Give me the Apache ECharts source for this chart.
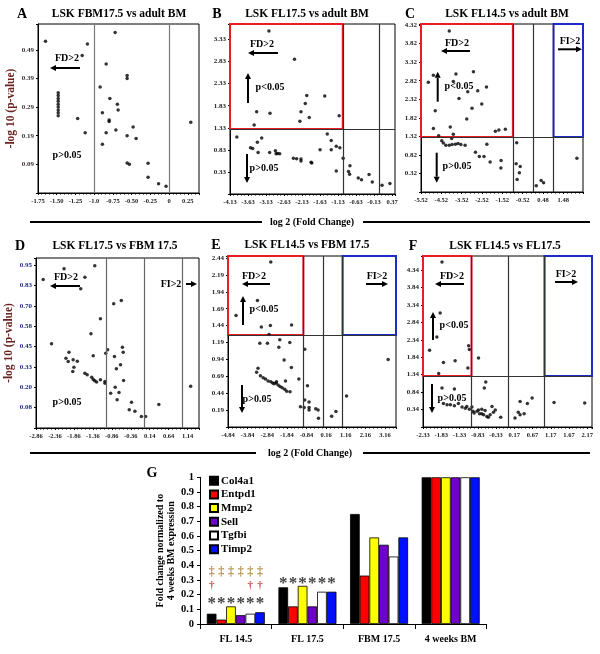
<!DOCTYPE html>
<html>
<head>
<meta charset="utf-8">
<script src="https://cdn.jsdelivr.net/npm/echarts@6/dist/echarts.min.js"></script>
<style>
  html, body { margin: 0; padding: 0; background: #fff; }
  #chart { width: 600px; height: 654px; }
</style>
</head>
<body>
<div id="chart"></div>
<script>
const SERIF = '"Liberation Serif", "Times New Roman", serif';

// volcano points: [log2 fold change, -log10 p-value]
const ptsA = [
  [-1.65, 0.52], [-1.09, 0.51], [-1.16, 0.47], [-0.72, 0.55], [-0.84, 0.44], [-0.56, 0.40],
  [-0.56, 0.39], [-0.92, 0.36], [-0.79, 0.32], [-0.69, 0.30], [-0.68, 0.28], [-0.89, 0.27],
  [-0.80, 0.245], [-0.80, 0.24], [-0.71, 0.21], [-0.84, 0.20], [-0.48, 0.22], [-0.56, 0.19],
  [-0.44, 0.18], [-0.89, 0.16], [-1.22, 0.25], [-1.12, 0.20],
  [-1.48, 0.34], [-1.48, 0.33], [-1.48, 0.32], [-1.48, 0.31], [-1.48, 0.30], [-1.48, 0.29],
  [-1.48, 0.28], [-1.48, 0.27], [-1.48, 0.26],
  [-0.56, 0.095], [-0.53, 0.09], [-0.28, 0.094], [-0.28, 0.045], [-0.14, 0.022], [-0.04, 0.014],
  [0.29, 0.237]
];
const ptsB = [
  [-3.05, 3.52], [-2.34, 2.88], [-2.00, 2.06], [-1.50, 2.05], [-2.04, 1.88], [-2.16, 1.69],
  [-3.39, 1.69], [-3.02, 1.66], [-1.93, 1.56], [-1.10, 1.60], [-2.19, 1.48], [-3.46, 1.39],
  [-3.94, 1.12], [-3.25, 1.10], [-3.37, 1.00], [-3.56, 0.88], [-3.50, 0.86], [-3.35, 0.77],
  [-3.03, 0.77], [-2.87, 0.81], [-2.81, 0.75], [-2.75, 0.74], [-2.85, 0.74], [-2.37, 0.64],
  [-2.28, 0.63], [-2.16, 0.62], [-2.16, 0.58], [-1.88, 0.55], [-1.86, 0.53], [-1.63, 0.83],
  [-1.43, 1.19], [-1.32, 1.04], [-1.32, 0.83], [-1.18, 0.91], [-1.08, 0.88], [-0.99, 0.64],
  [-1.18, 0.35], [-0.84, 0.34], [-0.81, 0.28], [-0.80, 0.47], [-0.57, 0.19], [-0.48, 0.15],
  [-0.27, 0.27], [-0.18, 0.10], [0.09, 0.03], [0.31, 0.07]
];
const ptsC = [
  [-4.13, 4.16], [-5.16, 2.78], [-4.91, 2.97], [-3.80, 3.00], [-2.94, 3.06], [-3.93, 2.80],
  [-3.22, 2.52], [-2.73, 2.55], [-2.30, 2.65], [-3.65, 2.34], [-2.53, 2.19], [-3.01, 2.08],
  [-4.82, 2.01], [-3.27, 1.79], [-4.08, 1.57], [-4.91, 1.53], [-1.86, 1.46], [-1.69, 1.49],
  [-1.37, 1.51], [-3.93, 1.38], [-4.65, 1.34],
  [-4.50, 1.20], [-4.42, 1.14], [-4.30, 1.08], [-4.13, 1.08], [-3.99, 1.10], [-3.83, 1.11],
  [-3.70, 1.13], [-3.56, 1.10], [-3.35, 1.08], [-4.01, 1.26],
  [-2.28, 1.11], [-2.84, 0.89], [-2.65, 0.78], [-2.42, 0.78], [-2.12, 0.63], [-1.58, 0.67],
  [-1.59, 0.47], [-0.81, 1.15], [-0.84, 0.58], [-0.64, 0.51], [-0.68, 0.34], [-0.79, 0.16],
  [0.15, -0.01], [0.39, 0.13], [0.51, 0.07], [2.15, 0.73]
];
const ptsD = [
  [-2.67, 0.868], [-2.12, 0.934], [-1.31, 0.952], [-1.57, 0.882], [-1.68, 0.811], [-0.61, 0.739],
  [-0.81, 0.719], [-1.16, 0.626], [-1.41, 0.534], [-2.45, 0.473], [-1.99, 0.421], [-0.97, 0.436],
  [-1.02, 0.415], [-0.58, 0.452], [-0.56, 0.421], [-1.35, 0.399], [-0.79, 0.395], [-2.07, 0.384],
  [-2.01, 0.364], [-1.88, 0.374], [-1.77, 0.366], [-1.86, 0.329], [-1.89, 0.302], [-0.63, 0.344],
  [-0.74, 0.319], [-1.57, 0.292], [-1.51, 0.282], [-1.39, 0.267], [-1.35, 0.253], [-1.31, 0.245],
  [-1.26, 0.237], [-1.16, 0.251], [-1.04, 0.241], [-1.04, 0.230], [-0.55, 0.247], [-0.77, 0.206],
  [-0.89, 0.169], [-0.67, 0.173], [-0.72, 0.128], [1.22, 0.212], [-0.34, 0.114], [-0.40, 0.067],
  [-0.25, 0.058], [-0.08, 0.026], [0.03, 0.026], [0.38, 0.10]
];
const ptsE = [
  [-2.66, 2.38], [-3.34, 1.81], [-4.43, 1.59], [-3.14, 1.42], [-2.68, 1.44], [-1.60, 1.45],
  [-2.75, 1.31], [-3.22, 1.18], [-2.83, 1.18], [-2.20, 1.23], [-1.69, 1.19], [-2.25, 1.12],
  [-0.93, 1.09], [-1.98, 0.93], [-1.61, 0.82], [-3.31, 0.81], [-3.38, 0.75], [-3.19, 0.70],
  [-1.23, 0.65], [3.32, 0.94],
  [-3.05, 0.67], [-2.93, 0.65], [-2.80, 0.62], [-2.66, 0.61], [-2.56, 0.59], [-2.49, 0.58],
  [-2.39, 0.59], [-2.29, 0.56], [-2.19, 0.54], [-2.08, 0.52], [-1.95, 0.50], [-1.85, 0.47],
  [-1.68, 0.46], [-1.91, 0.62], [-2.37, 0.61],
  [-0.79, 0.55], [1.20, 0.40], [-0.93, 0.34], [-0.71, 0.31], [-1.15, 0.24], [-0.96, 0.23],
  [-0.71, 0.23], [-0.71, 0.19], [-0.37, 0.21], [-0.25, 0.19], [-0.23, 0.07], [0.44, 0.10],
  [0.66, 0.17]
];
const ptsF = [
  [-1.81, 4.57], [-1.86, 3.11], [-1.95, 2.42], [-2.15, 2.04], [-1.08, 2.17], [-1.06, 2.06],
  [-1.77, 1.69], [-1.45, 1.74], [-1.10, 1.53], [-1.90, 1.37], [-0.81, 1.82], [-0.61, 1.13],
  [-1.81, 0.96], [-1.47, 0.93], [-0.65, 0.96], [0.66, 0.67],
  [-1.77, 0.51], [-1.67, 0.48], [-1.58, 0.48], [-1.47, 0.45], [-1.36, 0.51], [-1.26, 0.41],
  [-1.17, 0.38], [-1.13, 0.43], [-1.06, 0.35], [-0.99, 0.41], [-0.96, 0.29], [-0.93, 0.24],
  [-0.85, 0.29], [-0.81, 0.33], [-0.78, 0.22], [-0.72, 0.35], [-0.67, 0.19], [-0.63, 0.31],
  [-0.58, 0.14], [-0.54, 0.12], [-0.49, 0.19], [-0.44, 0.43], [-0.40, 0.26], [-0.35, 0.33],
  [-0.20, 0.12], [-0.72, 0.22], [0.33, 0.57], [0.53, 0.51], [0.19, 0.10], [0.28, 0.26],
  [0.33, 0.19], [0.44, 0.22], [1.26, 0.54], [2.10, 0.53]
];

// tick labels as printed
const A_XTICKS = ['-1.75', '-1.50', '-1.25', '-1.0', '-0.75', '-0.50', '-0.25', '0', '0.25'];
const A_YTICKS = ['0.09', '0.19', '0.29', '0.39', '0.49'];
const B_XTICKS = ['-4.13', '-3.63', '-3.13', '-2.63', '-2.13', '-1.63', '-1.13', '-0.63', '-0.13', '0.37'];
const B_YTICKS = ['0.33', '0.83', '1.33', '1.83', '2.33', '2.83', '3.33'];
const C_XTICKS = ['-5.52', '-4.52', '-3.52', '-2.52', '-1.52', '-0.52', '0.48', '1.48'];
const C_YTICKS = ['0.32', '0.82', '1.32', '1.82', '2.32', '2.82', '3.32', '3.82', '4.32'];
const D_XTICKS = ['-2.86', '-2.36', '-1.86', '-1.36', '-0.86', '-0.36', '0.14', '0.64', '1.14'];
const D_YTICKS = ['0.08', '0.20', '0.33', '0.45', '0.58', '0.70', '0.83', '0.95'];
const E_XTICKS = ['-4.84', '-3.84', '-2.84', '-1.84', '-0.84', '0.16', '1.16', '2.16', '3.16'];
const E_YTICKS = ['0.19', '0.44', '0.69', '0.94', '1.19', '1.44', '1.69', '1.94', '2.19', '2.44'];
const F_XTICKS = ['-2.33', '-1.83', '-1.33', '-0.83', '-0.33', '0.17', '0.67', '1.17', '1.67', '2.17'];
const F_YTICKS = ['0.34', '0.84', '1.34', '1.84', '2.34', '2.84', '3.34', '3.84', '4.34'];

// panel G
const GROUPS = ['FL 14.5', 'FL 17.5', 'FBM 17.5', '4 weeks BM'];
const GENES = ['Col4a1', 'Entpd1', 'Mmp2', 'Sell', 'Tgfbi', 'Timp2'];
const col4a1 = [0.07, 0.25, 0.75, 1];
const entpd1 = [0.03, 0.12, 0.33, 1];
const mmp2 = [0.12, 0.26, 0.59, 1];
const sell = [0.06, 0.12, 0.54, 1];
const tgfbi = [0.07, 0.22, 0.46, 1];
const timp2 = [0.08, 0.22, 0.59, 1];
const G_YTICKS = ['0', '0.1', '0.2', '0.3', '0.4', '0.5', '0.6', '0.7', '0.8', '0.9', '1'];
// significance marks per gene (1 = shown)
const FL145_STAR = [1, 1, 1, 1, 1, 1];
const FL145_DAGGER = [1, 0, 0, 0, 1, 1];
const FL145_DDAGGER = [1, 1, 1, 1, 1, 1];
const FL175_STAR = [1, 1, 1, 1, 1, 1];

const GENE_VALUES = [col4a1, entpd1, mmp2, sell, tgfbi, timp2];
const GENE_COLORS = ['#000000', '#ff0000', '#ffff00', '#7000cc', '#ffffff', '#0010ff'];

function tickFmt(labels) {
  return function (v) {
    for (const s of labels) if (Math.abs(parseFloat(s) - v) < 0.02) return s;
    return '';
  };
}

const panels = [
  { letter: 'A', title: 'LSK FBM17.5 vs adult BM', rect: [38, 24, 161, 169], x: [-1.75, 0.40, 0.25], y: [-0.01, 0.58, 0.1],
    xt: A_XTICKS, yt: A_YTICKS, pts: ptsA, vlines: [-1, 0], hline: false, red: false, blue: false, lineColor: '#7a7a7a', yName: true, yCol: '#3a3030' },
  { letter: 'B', title: 'LSK FL17.5 vs adult BM', rect: [230, 24, 165, 170], x: [-4.13, 0.45, 0.5], y: [-0.17, 3.68, 0.5],
    xt: B_XTICKS, yt: B_YTICKS, pts: ptsB, vlines: [-1, 0], hline: true, red: true, blue: false, lineColor: '#333' },
  { letter: 'C', title: 'LSK FL14.5 vs adult BM', rect: [421, 24, 162, 168], x: [-5.52, 2.45, 1], y: [-0.18, 4.35, 0.5],
    xt: C_XTICKS, yt: C_YTICKS, pts: ptsC, vlines: [-1, 0, 1], hline: true, red: true, blue: true, lineColor: '#333' },
  { letter: 'D', title: 'LSK FL17.5 vs FBM 17.5', rect: [36, 258, 163, 170], x: [-2.86, 1.44, 0.5], y: [-0.045, 1.0, 0.125],
    xt: D_XTICKS, yt: D_YTICKS, pts: ptsD, vlines: [-1, 0, 1], hline: false, red: false, blue: false, lineColor: '#666', yName: true, yCol: '#1c2a80' },
  { letter: 'E', title: 'LSK FL14.5 vs FBM 17.5', rect: [228, 256, 168, 171], x: [-4.84, 3.72, 1], y: [-0.06, 2.47, 0.25],
    xt: E_XTICKS, yt: E_YTICKS, pts: ptsE, vlines: [-1, 0, 1], hline: true, red: true, blue: true, lineColor: '#333' },
  { letter: 'F', title: 'LSK FL14.5 vs FL17.5', rect: [423, 256, 169, 171], x: [-2.33, 2.30, 0.5], y: [-0.16, 4.74, 0.5],
    xt: F_XTICKS, yt: F_YTICKS, pts: ptsF, vlines: [-1, 0, 1], hline: true, red: true, blue: true, lineColor: '#333' }
];
const P_THRESH = 1.3;

const grids = [], xAxes = [], yAxes = [], series = [];

panels.forEach((p, i) => {
  grids.push({ left: p.rect[0], top: p.rect[1], width: p.rect[2], height: p.rect[3], show: true,
    borderColor: '#000', borderWidth: 1, backgroundColor: '#fff', outerBoundsMode: 'none' });
  xAxes.push({
    gridIndex: i, type: 'value', min: p.x[0], max: p.x[1], interval: p.x[2],
    axisLine: { onZero: false, lineStyle: { color: '#000', width: 1 } },
    axisTick: { show: true, length: 2, lineStyle: { color: '#000' } },
    minorTick: { show: true, splitNumber: 5, length: 1.5, lineStyle: { color: '#000' } },
    splitLine: { show: false },
    axisLabel: { fontSize: 6.5, fontWeight: 'bold', fontFamily: SERIF, color: '#222', margin: 5, formatter: tickFmt(p.xt) }
  });
  yAxes.push({
    gridIndex: i, type: 'value', min: p.y[0], max: p.y[1], interval: p.y[2],
    axisLine: { onZero: false, lineStyle: { color: '#000', width: 1 } },
    axisTick: { show: true, length: 2, lineStyle: { color: '#000' } },
    splitLine: { show: false },
    axisLabel: { fontSize: 7, fontWeight: 'bold', fontFamily: SERIF, color: p.yCol || '#222', margin: 4, formatter: tickFmt(p.yt) },
    name: p.yName ? '-log 10 (p-value)' : '', nameLocation: 'middle', nameGap: 21, nameRotate: 90,
    nameTextStyle: { fontSize: 11.5, fontWeight: 'bold', fontFamily: SERIF, color: '#6a2420' }
  });

  const lines = p.vlines.map(v => ({ xAxis: v }));
  if (p.hline) lines.push({ yAxis: P_THRESH });
  const areas = [];
  if (p.red) areas.push([{ xAxis: p.x[0], yAxis: P_THRESH, itemStyle: { color: 'rgba(0,0,0,0)', borderColor: '#ea1c24', borderWidth: 2 } },
                         { xAxis: -1, yAxis: p.y[1] }]);
  if (p.blue) areas.push([{ xAxis: 1, yAxis: P_THRESH, itemStyle: { color: 'rgba(0,0,0,0)', borderColor: '#1c2cc8', borderWidth: 2 } },
                          { xAxis: p.x[1], yAxis: p.y[1] }]);
  series.push({
    type: 'scatter', xAxisIndex: i, yAxisIndex: i, data: p.pts, symbolSize: 3.5, silent: true,
    itemStyle: { color: '#000' },
    markLine: { silent: true, symbol: 'none', label: { show: false },
      lineStyle: { color: p.lineColor, width: 1.2, type: 'solid' }, data: lines },
    markArea: { silent: true, data: areas }
  });
});

// panel G
const gi = panels.length;
grids.push({ left: 200, top: 477.3, width: 286.5, height: 146.7, show: false, outerBoundsMode: 'none' });
xAxes.push({
  gridIndex: gi, type: 'category', data: GROUPS,
  axisLine: { lineStyle: { color: '#000', width: 1 } },
  axisTick: { show: true, length: 5, lineStyle: { color: '#000' } },
  axisLabel: { fontSize: 10, fontWeight: 'bold', fontFamily: SERIF, color: '#000', margin: 10 }
});
yAxes.push({
  gridIndex: gi, type: 'value', min: 0, max: 1, interval: 0.1,
  axisLine: { show: true, lineStyle: { color: '#000', width: 1 } },
  axisTick: { show: true, length: 3, lineStyle: { color: '#000' } },
  splitLine: { show: false },
  axisLabel: { fontSize: 10.5, fontWeight: 'bold', fontFamily: SERIF, color: '#000', margin: 6, formatter: tickFmt(G_YTICKS) },
  name: 'Fold change normalized to\n4 weeks BM expression', nameLocation: 'middle', nameGap: 23, nameRotate: 90,
  nameTextStyle: { fontSize: 10, fontWeight: 'bold', fontFamily: SERIF, color: '#000', lineHeight: 11 }
});

const STAR_Y145 = 0.164, DAGGER_Y = 0.266, DDAGGER_Y = 0.357, STAR_Y175 = 0.30;
function mark(cat, val, text, color, size, dy) {
  return { coord: [cat, val], label: { formatter: text, color: color, fontSize: size, offset: [0, dy] } };
}
GENES.forEach((g, k) => {
  const marks = [];
  if (FL145_STAR[k]) marks.push(mark(0, STAR_Y145, '*', '#444', 17, 4));
  if (FL145_DAGGER[k]) marks.push(mark(0, DAGGER_Y, '†', '#c0504d', 11, 0));
  if (FL145_DDAGGER[k]) marks.push(mark(0, DDAGGER_Y, '‡', '#b8934f', 12, 0));
  if (FL175_STAR[k]) marks.push(mark(1, STAR_Y175, '*', '#444', 17, 4));
  series.push({
    type: 'bar', name: g, xAxisIndex: gi, yAxisIndex: gi, data: GENE_VALUES[k],
    barGap: '0%', barCategoryGap: '19%', silent: true,
    itemStyle: { color: GENE_COLORS[k], borderColor: '#000', borderWidth: 0.8 },
    markPoint: {
      silent: true, symbol: 'rect', symbolSize: 1, itemStyle: { color: 'rgba(0,0,0,0)' },
      label: { show: true, position: 'inside', fontWeight: 'bold', fontFamily: SERIF },
      data: marks
    }
  });
});

// annotations
function txt(x, y, s, size, color) {
  return { type: 'text', x: x, y: y, z: 100,
    style: { text: s, font: 'bold ' + size + 'px ' + SERIF, fill: color || '#000', align: 'center', verticalAlign: 'middle' } };
}
function arrow(x1, y1, x2, y2) {
  const dx = x2 - x1, dy = y2 - y1, len = Math.hypot(dx, dy);
  const ux = dx / len, uy = dy / len, hl = 6, hw = 3;
  const bx = x2 - ux * hl, by = y2 - uy * hl;
  return [
    { type: 'line', z: 100, shape: { x1: x1, y1: y1, x2: bx, y2: by }, style: { stroke: '#000', lineWidth: 2 } },
    { type: 'polygon', z: 100, shape: { points: [[x2, y2], [bx - uy * hw, by + ux * hw], [bx + uy * hw, by - ux * hw]] }, style: { fill: '#000' } }
  ];
}
function hline(x1, x2, y) {
  return { type: 'line', z: 100, shape: { x1: x1, y1: y, x2: x2, y2: y }, style: { stroke: '#000', lineWidth: 2 } };
}

const titlePos = [[22, 119, 14], [217, 307, 14], [410, 507, 14], [20, 115, 246], [216, 307, 245], [413, 505, 246]];
let graphics = [];
panels.forEach((p, i) => {
  const t = titlePos[i];
  graphics.push(txt(t[0], t[2], p.letter, 14));
  graphics.push(txt(t[1], t[2], p.title, 11.5));
});
graphics.push(
  // A
  txt(67, 58, 'FD>2', 10), ...arrow(80, 68, 50, 68), txt(67, 155, 'p>0.05', 10),
  // B
  txt(262, 44, 'FD>2', 10), ...arrow(278, 53, 248, 53), ...arrow(248, 103, 248, 73), txt(270, 87, 'p<0.05', 10),
  ...arrow(247, 154, 247, 183), txt(264, 168, 'p>0.05', 10),
  // C
  txt(457, 43, 'FD>2', 10), ...arrow(470, 51, 441, 51), txt(570, 41.5, 'FI>2', 10), ...arrow(558, 49.3, 582, 49.3),
  ...arrow(437.7, 101.7, 437.7, 71.7), txt(459, 86, 'p<0.05', 10), ...arrow(436.7, 152.7, 436.7, 182.7), txt(457, 166, 'p>0.05', 10),
  // D
  txt(66, 277, 'FD>2', 10), ...arrow(80, 286, 50, 286), txt(171, 284, 'FI>2', 10), ...arrow(186, 284, 197, 284), txt(67, 402, 'p>0.05', 10),
  // E
  txt(254, 276, 'FD>2', 10), ...arrow(270, 284, 242, 284), txt(377, 276, 'FI>2', 10), ...arrow(366, 284, 388, 284),
  ...arrow(243, 325, 243, 296), txt(264, 309, 'p<0.05', 10), ...arrow(242, 385, 242, 413), txt(257, 399, 'p>0.05', 10),
  // F
  txt(452, 276, 'FD>2', 10), ...arrow(464, 284, 435, 284), txt(566, 274, 'FI>2', 10), ...arrow(555, 282, 578, 282),
  ...arrow(433, 340, 433, 312), txt(454, 325, 'p<0.05', 10), ...arrow(432, 384, 432, 413), txt(452, 398, 'p>0.05', 10),
  // shared x-axis titles
  hline(30, 262, 222), txt(312, 222, 'log 2 (Fold Change)', 10), hline(363, 590, 222),
  hline(30, 256, 453), txt(310, 453, 'log 2 (Fold Change)', 10), hline(363, 590, 453),
  // G
  txt(152, 473, 'G', 14)
);

const chart = echarts.init(document.getElementById('chart'), null, { renderer: 'canvas' });
chart.setOption({
  animation: false,
  backgroundColor: '#fff',
  grid: grids,
  xAxis: xAxes,
  yAxis: yAxes,
  legend: {
    data: GENES, orient: 'vertical', left: 209, top: 474.7, padding: 0, itemGap: 1.7,
    itemWidth: 8, itemHeight: 8, icon: 'rect',
    textStyle: { fontSize: 11, fontWeight: 'bold', fontFamily: SERIF, color: '#000', lineHeight: 12, padding: [0, 0, 0, -2] }
  },
  series: series,
  graphic: graphics
});
</script>
</body>
</html>
